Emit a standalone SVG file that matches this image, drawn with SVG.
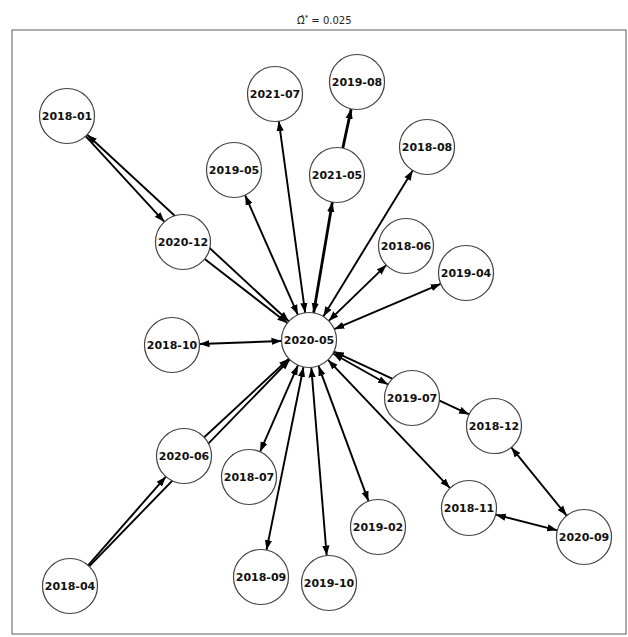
<svg xmlns="http://www.w3.org/2000/svg" width="628" height="637" viewBox="0 0 628 637">
<defs>
<marker id="ah" viewBox="0 0 10 8" refX="10" refY="4" markerWidth="10" markerHeight="8" markerUnits="userSpaceOnUse" orient="auto-start-reverse">
<path d="M0,0.4 L10,4 L0,7.6 z" fill="#000"/>
</marker>
<style>
.e{stroke:#000;stroke-width:1.9;fill:none}
.b{marker-start:url(#ah);marker-end:url(#ah)}
.f{marker-end:url(#ah)}
.n circle{fill:#fff;stroke:#4a4040;stroke-width:1.2}
.n text{font-family:"DejaVu Sans",sans-serif;font-weight:bold;font-size:11px;fill:#111;text-anchor:middle}
.t{font-family:"DejaVu Sans",sans-serif;font-size:10px;fill:#222}
</style>
</defs>
<rect x="0" y="0" width="628" height="637" fill="#fff"/>
<text class="t" x="297" y="24">Ω̂<tspan dy="-4" font-size="7">*</tspan><tspan dy="4"> = 0.025</tspan></text>
<rect x="12" y="30" width="614" height="604" fill="none" stroke="#777" stroke-width="1.2"/>
<g id="edges">
<line class="e b" x1="297.9" y1="314.8" x2="245.1" y2="195.2"/>
<line class="e b" x1="305.2" y1="312.8" x2="278.8" y2="121.2"/>
<line class="e b" x1="313.6" y1="312.9" x2="332.4" y2="202.1" style="stroke-width:2.8"/>
<line class="e f" x1="342.8" y1="148.1" x2="351.2" y2="108.9" style="stroke-width:2.8"/>
<line class="e b" x1="323.3" y1="316.5" x2="412.7" y2="170.5"/>
<line class="e b" x1="328.7" y1="320.9" x2="386.3" y2="265.1"/>
<line class="e b" x1="334.3" y1="329.2" x2="440.7" y2="283.8"/>
<line class="e b" x1="281.5" y1="341.0" x2="199.5" y2="344.0"/>
<line class="e b" x1="333.0" y1="353.5" x2="388.0" y2="384.5"/>
<line class="e b" x1="333.9" y1="351.6" x2="469.1" y2="414.4"/>
<line class="e b" x1="288.8" y1="321.3" x2="87.2" y2="134.7"/>
<line class="e f" x1="85.6" y1="136.2" x2="164.4" y2="221.8"/>
<line class="e f" x1="204.7" y1="258.9" x2="287.3" y2="323.1"/>
<line class="e f" x1="89.2" y1="566.3" x2="289.8" y2="359.7"/>
<line class="e f" x1="88.1" y1="565.3" x2="165.9" y2="476.7"/>
<line class="e f" x1="204.2" y1="437.3" x2="288.8" y2="358.7"/>
<line class="e b" x1="298.0" y1="365.2" x2="260.0" y2="451.8"/>
<line class="e b" x1="303.5" y1="367.0" x2="266.5" y2="550.0"/>
<line class="e b" x1="311.3" y1="367.4" x2="326.7" y2="555.6"/>
<line class="e b" x1="318.5" y1="365.8" x2="368.5" y2="501.2"/>
<line class="e b" x1="328.0" y1="359.9" x2="450.0" y2="488.1"/>
<line class="e b" x1="511.3" y1="447.4" x2="566.7" y2="515.6"/>
<line class="e b" x1="495.7" y1="514.7" x2="557.3" y2="530.3"/>
</g>
<g id="n2018-01" class="n"><circle cx="67" cy="116" r="27.5"/><text x="67" y="120">2018-01</text></g>
<g id="n2021-07" class="n"><circle cx="275" cy="94" r="27.5"/><text x="275" y="98">2021-07</text></g>
<g id="n2019-08" class="n"><circle cx="357" cy="82" r="27.5"/><text x="357" y="86">2019-08</text></g>
<g id="n2019-05" class="n"><circle cx="234" cy="170" r="27.5"/><text x="234" y="174">2019-05</text></g>
<g id="n2021-05" class="n"><circle cx="337" cy="175" r="27.5"/><text x="337" y="179">2021-05</text></g>
<g id="n2018-08" class="n"><circle cx="427" cy="147" r="27.5"/><text x="427" y="151">2018-08</text></g>
<g id="n2020-12" class="n"><circle cx="183" cy="242" r="27.5"/><text x="183" y="246">2020-12</text></g>
<g id="n2018-06" class="n"><circle cx="406" cy="246" r="27.5"/><text x="406" y="250">2018-06</text></g>
<g id="n2019-04" class="n"><circle cx="466" cy="273" r="27.5"/><text x="466" y="277">2019-04</text></g>
<g id="n2018-10" class="n"><circle cx="172" cy="345" r="27.5"/><text x="172" y="349">2018-10</text></g>
<g id="n2020-05" class="n"><circle cx="309" cy="340" r="27.5"/><text x="309" y="344">2020-05</text></g>
<g id="n2019-07" class="n"><circle cx="412" cy="398" r="27.5"/><text x="412" y="402">2019-07</text></g>
<g id="n2018-12" class="n"><circle cx="494" cy="426" r="27.5"/><text x="494" y="430">2018-12</text></g>
<g id="n2020-06" class="n"><circle cx="184" cy="456" r="27.5"/><text x="184" y="460">2020-06</text></g>
<g id="n2018-07" class="n"><circle cx="249" cy="477" r="27.5"/><text x="249" y="481">2018-07</text></g>
<g id="n2019-02" class="n"><circle cx="378" cy="527" r="27.5"/><text x="378" y="531">2019-02</text></g>
<g id="n2018-11" class="n"><circle cx="469" cy="508" r="27.5"/><text x="469" y="512">2018-11</text></g>
<g id="n2020-09" class="n"><circle cx="584" cy="537" r="27.5"/><text x="584" y="541">2020-09</text></g>
<g id="n2018-04" class="n"><circle cx="70" cy="586" r="27.5"/><text x="70" y="590">2018-04</text></g>
<g id="n2018-09" class="n"><circle cx="261" cy="577" r="27.5"/><text x="261" y="581">2018-09</text></g>
<g id="n2019-10" class="n"><circle cx="329" cy="583" r="27.5"/><text x="329" y="587">2019-10</text></g>
</svg>
